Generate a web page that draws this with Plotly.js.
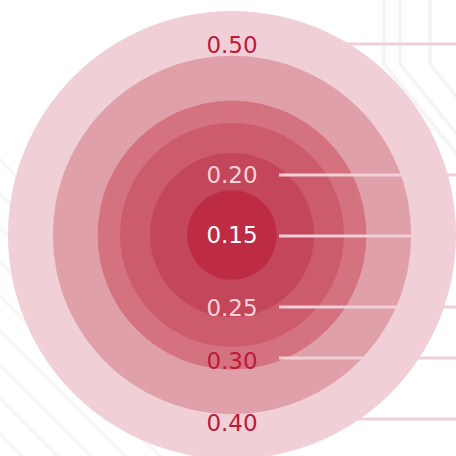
<!DOCTYPE html>
<html>
<head>
<meta charset="utf-8">
<script src="https://cdn.plot.ly/plotly-3.0.1.min.js"></script>
<style>html,body{margin:0;padding:0;background:#fff;}#chart{width:456px;height:456px;}</style>
</head>
<body>
<div id="chart"></div>
<script>
// ---- data ----
var labels = ["0.50", "0.20", "0.15", "0.25", "0.30", "0.40"];
var ringRadius = [0.50, 0.40, 0.30, 0.25, 0.183, 0.100];

// ---- styling / layout constants ----
var ringColors = ["#F0D0D6", "#E0A0AA", "#D4727F", "#CC5B6C", "#C4465B", "#BE2C44"];
var labelColors = ["#C0183A", "#F3D3D9", "#FFFFFF", "#F3D3D9", "#C0183A", "#C0183A"];
var labelY = [0.419, 0.129, -0.005, -0.168, -0.286, -0.425];
var lineY = [0.4263, 0.1339, -0.0022, -0.1607, -0.2746, -0.4107];
var lineStart = 0.105;
var lineColor = "#F0D0D6";

var pxPerUnit = 448, cx = 232, cy = 235, W = 456, H = 456;
var xr = [-cx / pxPerUnit, (W - cx) / pxPerUnit];
var yr = [-(H - cy) / pxPerUnit, cy / pxPerUnit];

var shapes = [];
// decorative background stripes (bottom-left diagonals)
var stripeColor = "rgba(0,0,0,0.03)";
for (var k = 0; k < 9; k++) {
  var y0 = 0.40 + k * 0.075;
  shapes.push({type: "line", xref: "paper", yref: "paper", layer: "below",
    x0: -0.05, y0: y0 - 0.3, x1: 0.45, y1: y0 - 0.8,
    line: {color: stripeColor, width: 4}});
}
// decorative vertical traces top-right
var vx = [0.842, 0.877, 0.943];
vx.forEach(function (x) {
  shapes.push({type: "path", xref: "paper", yref: "paper", layer: "below",
    path: "M " + x + " 1.02 L " + x + " 0.86 L " + (x + 0.25) + " 0.55",
    line: {color: "rgba(0,0,0,0.04)", width: 4}});
});
// rings
ringRadius.forEach(function (r, i) {
  shapes.push({type: "circle", xref: "x", yref: "y", layer: "below",
    x0: -r, x1: r, y0: -r, y1: r,
    fillcolor: ringColors[i], line: {width: 0}});
});
// leader lines
lineY.forEach(function (y) {
  shapes.push({type: "line", xref: "x", yref: "y", layer: "below",
    x0: lineStart, x1: xr[1] + 0.05, y0: y, y1: y,
    line: {color: lineColor, width: 3}});
});

var textTrace = {
  type: "scatter", mode: "text",
  x: labels.map(function () { return 0; }),
  y: labelY,
  text: labels,
  textposition: "middle center",
  textfont: {family: "DejaVu Sans", size: 23, color: labelColors},
  hoverinfo: "none", showlegend: false, cliponaxis: false
};

var layout = {
  width: W, height: H,
  margin: {l: 0, r: 0, t: 0, b: 0},
  paper_bgcolor: "#ffffff", plot_bgcolor: "rgba(0,0,0,0)",
  xaxis: {range: xr, visible: false, fixedrange: true},
  yaxis: {range: yr, visible: false, fixedrange: true},
  shapes: shapes,
  showlegend: false
};

Plotly.newPlot("chart", [textTrace], layout, {displayModeBar: false, staticPlot: true});
</script>
</body>
</html>
